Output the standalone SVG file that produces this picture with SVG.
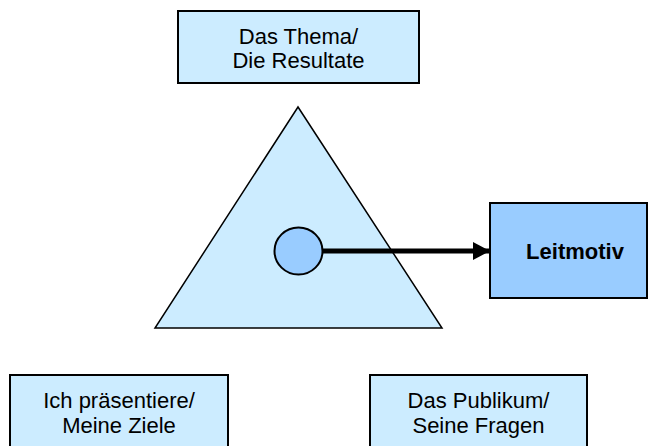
<svg xmlns="http://www.w3.org/2000/svg" width="648" height="446" viewBox="0 0 648 446">
  <style>
    .box { fill: #CCECFF; stroke: #000; stroke-width: 2; }
    .dark { fill: #99CCFF; stroke: #000; stroke-width: 2; }
    .tri { fill: #CCECFF; stroke: #000; stroke-width: 1.5; }
    .lbl { font-family: "Liberation Sans", Arial, sans-serif; font-size: 22px; fill: #000; text-anchor: middle; }
    .bold { font-weight: bold; }
  </style>
  <defs>
    <marker id="arr" markerWidth="17" markerHeight="18" refX="17" refY="9" orient="auto" markerUnits="userSpaceOnUse">
      <path d="M0,0 L17,9 L0,18 Z" fill="#000"/>
    </marker>
  </defs>
  <rect width="648" height="446" fill="#fff"/>

  <g id="triangle">
    <polygon class="tri" points="298,107 155,328 442,328"/>
  </g>

  <g id="top-box">
    <rect class="box" x="178" y="11" width="241" height="72"/>
    <text class="lbl" x="298.5" y="44">Das Thema/</text>
    <text class="lbl" x="298.5" y="68">Die Resultate</text>
  </g>

  <g id="left-box">
    <rect class="box" x="10" y="375" width="218" height="72"/>
    <text class="lbl" x="119" y="408">Ich präsentiere/</text>
    <text class="lbl" x="119" y="433">Meine Ziele</text>
  </g>

  <g id="right-box">
    <rect class="box" x="370" y="375" width="217" height="72"/>
    <text class="lbl" x="478.5" y="408">Das Publikum/</text>
    <text class="lbl" x="478.5" y="433">Seine Fragen</text>
  </g>

  <g id="connectors">
    <line x1="322" y1="251" x2="490" y2="251" stroke="#000" stroke-width="5" marker-end="url(#arr)"/>
  </g>

  <g id="center-circle">
    <ellipse class="dark" cx="298.5" cy="251" rx="24" ry="23.5"/>
  </g>

  <g id="leitmotiv">
    <rect class="dark" x="490" y="203" width="157" height="95"/>
    <text class="lbl bold" x="575" y="259">Leitmotiv</text>
  </g>
</svg>
